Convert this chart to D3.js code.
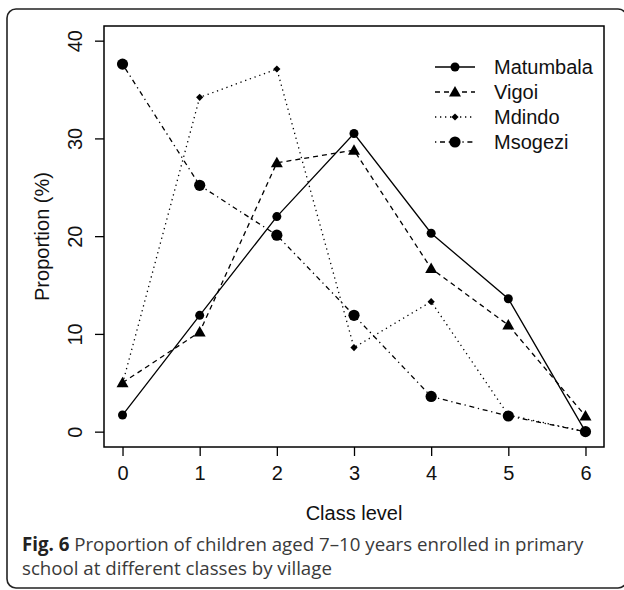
<!DOCTYPE html>
<html>
<head>
<meta charset="utf-8">
<script src="https://cdn.jsdelivr.net/npm/d3@7"></script>
<style>
  body { margin: 0; background: #fff; }
  svg { display: block; }
  .r-text { font-family: "Liberation Sans", Arial, Helvetica, sans-serif; font-size: 20px; fill: #111; }
  .cap { font-family: "Open Sans", "Noto Sans", sans-serif; font-size: 18.7px; fill: #3a3a3a; }
</style>
</head>
<body>
<div id="chart"></div>
<script>
// ---- Data ----
const classLevels = [0, 1, 2, 3, 4, 5, 6];
const yTicks = [0, 10, 20, 30, 40];
const villages = ["Matumbala", "Vigoi", "Mdindo", "Msogezi"];
const matumbala = [1.7, 11.9, 22.0, 30.5, 20.3, 13.6, 0.0];
const vigoi = [5.0, 10.2, 27.5, 28.8, 16.7, 10.9, 1.6];
const mdindo = [4.9, 34.2, 37.1, 8.6, 13.3, 1.7, 0.0];
const msogezi = [37.6, 25.2, 20.1, 11.9, 3.6, 1.6, 0.0];

const seriesValues = [matumbala, vigoi, mdindo, msogezi];
const dashes = [null, "5,4", "1.3,3.7", "1.3,3.7,5,3.7"];
const symbols = ["circle", "triangle", "diamond", "bigcircle"];

const width = 624, height = 590;
const margin = { top: 26, right: 20, bottom: 143, left: 104 };
const chartWidth = width - margin.left - margin.right;
const chartHeight = height - margin.top - margin.bottom;

const svg = d3.select("#chart").append("svg")
  .attr("width", width)
  .attr("height", height);

// rounded figure frame
svg.append("rect")
  .attr("x", 7).attr("y", 9)
  .attr("width", 620).attr("height", 579)
  .attr("rx", 9)
  .attr("fill", "none")
  .attr("stroke", "#222")
  .attr("stroke-width", 1.6);

const chartArea = svg.append("g")
  .attr("transform", `translate(${margin.left},${margin.top})`);

const x = d3.scaleLinear().domain([-0.24, 6.24]).range([0, chartWidth]);
const y = d3.scaleLinear().domain([-1.57, 41.5]).range([chartHeight, 0]);

// box
chartArea.append("rect")
  .attr("width", chartWidth).attr("height", chartHeight)
  .attr("fill", "none").attr("stroke", "#000").attr("stroke-width", 1.5);

// axes
const xAxisG = chartArea.append("g")
  .attr("transform", `translate(0,${chartHeight})`)
  .call(d3.axisBottom(x).tickValues(classLevels).tickSize(9).tickPadding(10).tickFormat(d3.format("d")));
const yAxisG = chartArea.append("g")
  .call(d3.axisLeft(y).tickValues(yTicks).tickSize(9).tickPadding(4));

[xAxisG, yAxisG].forEach(g => {
  g.attr("font-family", null).attr("font-size", null);
  g.select(".domain").remove();
  g.selectAll("line").attr("stroke", "#000").attr("stroke-width", 1.3);
  g.selectAll("text").attr("fill", null).attr("class", "r-text");
});
yAxisG.selectAll("text")
  .attr("text-anchor", "middle")
  .attr("dy", null)
  .attr("x", 0).attr("y", 0)
  .attr("transform", "translate(-22,0) rotate(-90)");

// axis titles
svg.append("text")
  .attr("class", "r-text")
  .attr("x", margin.left + x(3)).attr("y", 520)
  .attr("text-anchor", "middle")
  .text("Class level");
svg.append("text")
  .attr("class", "r-text")
  .attr("transform", `translate(49,${margin.top + chartHeight / 2}) rotate(-90)`)
  .attr("text-anchor", "middle")
  .text("Proportion (%)");

// symbols
function drawSymbol(g, type, cx, cy) {
  if (type === "circle") {
    g.append("circle").attr("cx", cx).attr("cy", cy).attr("r", 4.5).attr("fill", "#000");
  } else if (type === "bigcircle") {
    g.append("circle").attr("cx", cx).attr("cy", cy).attr("r", 5.6).attr("fill", "#000");
  } else if (type === "triangle") {
    g.append("path")
      .attr("d", `M${cx},${cy - 6}L${cx + 6},${cy + 4.5}L${cx - 6},${cy + 4.5}Z`)
      .attr("fill", "#000");
  } else {
    g.append("path")
      .attr("d", `M${cx},${cy - 3.6}L${cx + 3.6},${cy}L${cx},${cy + 3.6}L${cx - 3.6},${cy}Z`)
      .attr("fill", "#000");
  }
}

const line = d3.line().x((d, i) => x(classLevels[i])).y(d => y(d));

seriesValues.forEach((vals, s) => {
  chartArea.append("path")
    .attr("d", line(vals))
    .attr("fill", "none")
    .attr("stroke", "#000")
    .attr("stroke-width", 1.3)
    .attr("stroke-dasharray", dashes[s]);
  const pg = chartArea.append("g");
  vals.forEach((v, i) => drawSymbol(pg, symbols[s], x(classLevels[i]), y(v)));
});

// ---- Legend ----
const legend = svg.append("g").attr("transform", "translate(435,67)");
villages.forEach((name, i) => {
  const row = legend.append("g").attr("transform", `translate(0,${i * 25})`);
  row.append("line")
    .attr("x1", 0).attr("x2", 40).attr("y1", 0).attr("y2", 0)
    .attr("stroke", "#000").attr("stroke-width", 1.3)
    .attr("stroke-dasharray", dashes[i]);
  drawSymbol(row, symbols[i], 20, 0);
  row.append("text")
    .attr("class", "r-text")
    .attr("x", 59).attr("y", 7)
    .text(name);
});

// ---- Caption ----
const caption = svg.append("text")
  .attr("class", "cap")
  .attr("x", 22).attr("y", 551);
caption.append("tspan").attr("font-weight", "bold").style("fill", "#222").text("Fig. 6");
caption.append("tspan").text(" Proportion of children aged 7\u201310 years enrolled in primary");
svg.append("text")
  .attr("class", "cap")
  .attr("x", 22).attr("y", 575)
  .text("school at different classes by village");
</script>
</body>
</html>
